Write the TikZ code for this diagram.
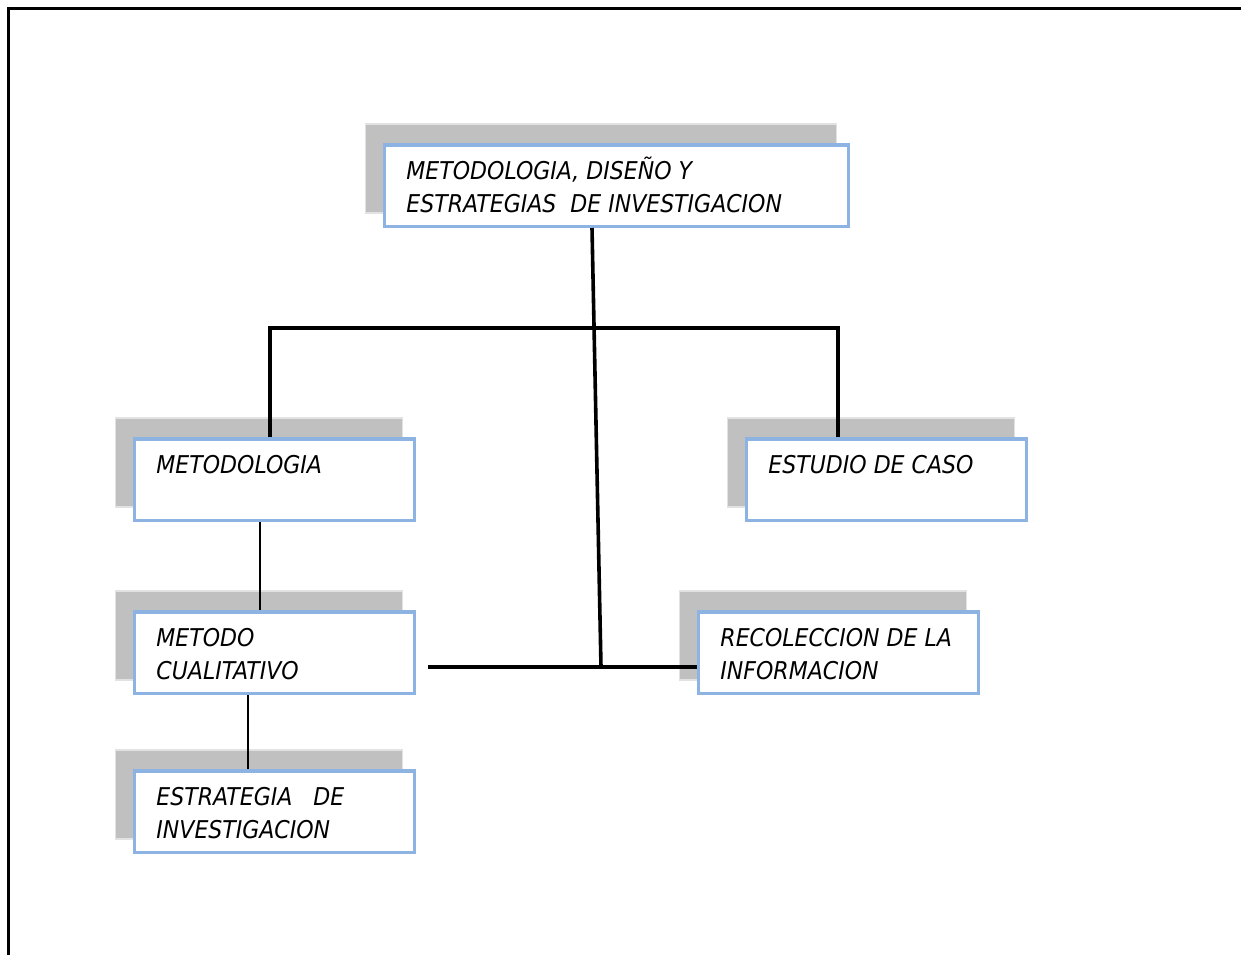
\documentclass[tikz,border=0pt]{standalone}
\usepackage{fontspec}
\setmainfont{DejaVu Sans Condensed}
\usetikzlibrary{calc,backgrounds}
\definecolor{boxblue}{HTML}{8DB3E2}
\definecolor{shadowgray}{HTML}{C0C0C0}
\definecolor{shadowedge}{HTML}{E2E2E2}
\tikzset{
  card/.style={draw=boxblue, line width=3.5pt, fill=white, rectangle,
    inner sep=0pt, minimum height=81.5pt},
  shade/.style={fill=shadowgray, draw=shadowedge, line width=1.2pt},
  txt/.style={anchor=base west, inner sep=0pt, font=\itshape\fontsize{24.5}{33}\selectfont},
  trunk/.style={line width=3.6pt},
  twig/.style={line width=1.8pt},
}
\begin{document}
\begin{tikzpicture}[x=1pt,y=-1pt]
\useasboundingbox (0,0) rectangle (1241,954);
% page frame
\draw[line width=2.5pt] (1245,8.5) -- (8.5,8.5) -- (8.5,960);

% boxes
\node[card, minimum width=464pt] (top)  at (616.5,185.5) {};
\node[card, minimum width=280pt] (met)  at (274.5,479.5) {};
\node[card, minimum width=280pt] (caso) at (886.5,479.5) {};
\node[card, minimum width=280pt] (cual) at (274.5,652.5) {};
\node[card, minimum width=280pt] (rec)  at (838.5,652.5) {};
\node[card, minimum width=280pt] (estr) at (274.5,811.5) {};

% grey shadows behind the boxes
\begin{pgfonlayer}{background}
\foreach \b in {top,met,caso,cual,rec,estr}
  \draw[shade] ($(\b.north west)+(-17,-19)$) rectangle ($(\b.south east)+(-14,-15)$);
\end{pgfonlayer}

% box texts
\node[txt] (top1) at ($(top.north west)+(23.5,36)$) {METODOLOGIA, DISEÑO Y};
\node[txt] (top2) at ($(top.north west)+(23.5,69)$) {ESTRATEGIAS\ \ DE INVESTIGACION};
\node[txt] (met1) at ($(met.north west)+(23.5,36)$) {METODOLOGIA};
\node[txt] (caso1) at ($(caso.north west)+(23.5,36)$) {ESTUDIO DE CASO};
\node[txt] (cual1) at ($(cual.north west)+(23.5,36)$) {METODO};
\node[txt] (cual2) at ($(cual.north west)+(23.5,69)$) {CUALITATIVO};
\node[txt] (rec1) at ($(rec.north west)+(23.5,36)$) {RECOLECCION DE LA};
\node[txt] (rec2) at ($(rec.north west)+(23.5,69)$) {INFORMACION};
\node[txt] (estr1) at ($(estr.north west)+(23.5,36)$) {ESTRATEGIA\ \ \ DE};
\node[txt] (estr2) at ($(estr.north west)+(23.5,69)$) {INVESTIGACION};

% junction points
\coordinate (busL) at (270,328);
\coordinate (busR) at (838,328);
\coordinate (j)    at (601,667);
\coordinate (hl)   at (428,667);

% connectors
\draw[trunk] ([xshift=-24.5pt]top.south) -- (j);
\draw[trunk] (busL |- met.north) -- (busL) -- (busR) -- (busR |- caso.north);
\draw[trunk] (hl) -- (hl -| rec.west);
\draw[twig] ([xshift=-14.5pt]met.south) -- ([xshift=-14.5pt]cual.north);
\draw[twig] ([xshift=-26.5pt]cual.south) -- ([xshift=-26.5pt]estr.north);
\end{tikzpicture}
\end{document}
